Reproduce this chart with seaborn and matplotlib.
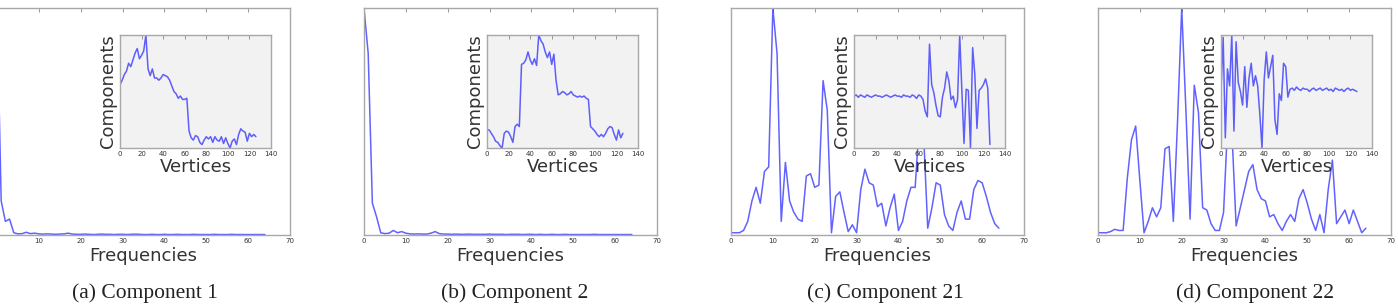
import numpy as np
import pandas as pd
import matplotlib
matplotlib.use("Agg")
import matplotlib.pyplot as plt
import seaborn as sns

# spectrum magnitudes at frequencies 0..64 (normalised)
freqs = list(range(65))
spec_a = [1.0, 0.15, 0.06, 0.07, 0.01, 0.005, 0.006, 0.012, 0.006, 0.008,
          0.005, 0.004, 0.005, 0.004, 0.003, 0.004, 0.005, 0.008, 0.004, 0.003,
          0.003, 0.004, 0.003, 0.002, 0.003, 0.004, 0.003, 0.003, 0.002, 0.003,
          0.003, 0.002, 0.003, 0.004, 0.003, 0.002, 0.002, 0.003, 0.002, 0.002,
          0.003, 0.002, 0.002, 0.003, 0.002, 0.002, 0.002, 0.003, 0.002, 0.002,
          0.002, 0.002, 0.003, 0.002, 0.002, 0.002, 0.003, 0.002, 0.002, 0.002,
          0.002, 0.002, 0.002, 0.002, 0.002]
spec_b = [1.0, 0.8, 0.14, 0.08, 0.01, 0.006, 0.008, 0.02, 0.01, 0.015,
          0.008, 0.005, 0.004, 0.005, 0.004, 0.004, 0.008, 0.015, 0.006, 0.004,
          0.004, 0.003, 0.004, 0.003, 0.003, 0.004, 0.003, 0.003, 0.003, 0.003,
          0.004, 0.003, 0.003, 0.003, 0.002, 0.003, 0.003, 0.003, 0.002, 0.003,
          0.003, 0.002, 0.003, 0.002, 0.002, 0.003, 0.002, 0.002, 0.003, 0.002,
          0.002, 0.002, 0.002, 0.002, 0.002, 0.003, 0.002, 0.002, 0.002, 0.002,
          0.002, 0.002, 0.002, 0.002, 0.002]
spec_c = [0.01, 0.01, 0.01, 0.02, 0.06, 0.15, 0.21, 0.14, 0.28, 0.30,
          1.00, 0.80, 0.06, 0.32, 0.15, 0.10, 0.07, 0.06, 0.26, 0.27,
          0.21, 0.22, 0.68, 0.55, 0.01, 0.17, 0.19, 0.10, 0.015, 0.045,
          0.01, 0.20, 0.29, 0.23, 0.22, 0.125, 0.14, 0.04, 0.12, 0.18,
          0.02, 0.06, 0.15, 0.21, 0.21, 0.50, 0.45, 0.03, 0.12, 0.23,
          0.22, 0.09, 0.04, 0.02, 0.10, 0.15, 0.07, 0.07, 0.20, 0.24,
          0.23, 0.17, 0.10, 0.05, 0.03]
spec_d = [0.01, 0.01, 0.01, 0.015, 0.025, 0.02, 0.02, 0.25, 0.42, 0.48,
          0.24, 0.01, 0.06, 0.12, 0.08, 0.12, 0.38, 0.39, 0.06, 0.50,
          1.00, 0.55, 0.07, 0.66, 0.54, 0.12, 0.11, 0.05, 0.02, 0.02,
          0.10, 0.50, 0.45, 0.04, 0.12, 0.20, 0.28, 0.31, 0.20, 0.16,
          0.15, 0.08, 0.09, 0.05, 0.02, 0.06, 0.09, 0.06, 0.16, 0.20,
          0.14, 0.07, 0.02, 0.09, 0.01, 0.20, 0.33, 0.05, 0.08, 0.11,
          0.05, 0.11, 0.06, 0.01, 0.03]

# component values on the vertices (every second vertex, 0..126)
vertices = list(range(0, 128, 2))
comp_a = [0.56, 0.60, 0.65, 0.68, 0.75, 0.72, 0.78, 0.84, 0.88, 0.79,
          0.82, 0.86, 1.00, 0.70, 0.64, 0.70, 0.62, 0.62, 0.60, 0.62,
          0.65, 0.64, 0.63, 0.60, 0.55, 0.50, 0.48, 0.44, 0.46, 0.43,
          0.43, 0.44, 0.15, 0.09, 0.07, 0.11, 0.10, 0.05, 0.03, 0.07,
          0.10, 0.08, 0.10, 0.05, 0.10, 0.07, 0.06, 0.10, 0.04, 0.09,
          0.04, 0.00, 0.06, 0.08, 0.03, 0.12, 0.17, 0.15, 0.14, 0.06,
          0.13, 0.10, 0.12, 0.10]
comp_b = [0.16, 0.16, 0.13, 0.10, 0.06, 0.05, 0.02, 0.00, 0.13, 0.15,
          0.14, 0.10, 0.05, 0.19, 0.21, 0.19, 0.74, 0.75, 0.78, 0.85,
          0.78, 0.74, 0.79, 0.73, 1.00, 0.95, 0.92, 0.85, 0.80, 0.85,
          0.74, 0.83, 0.60, 0.47, 0.48, 0.50, 0.49, 0.47, 0.48, 0.50,
          0.47, 0.46, 0.45, 0.46, 0.45, 0.46, 0.44, 0.43, 0.19, 0.17,
          0.15, 0.12, 0.10, 0.12, 0.10, 0.13, 0.17, 0.19, 0.18, 0.12,
          0.07, 0.16, 0.09, 0.13]
comp_c = [0.45, 0.46, 0.44, 0.46, 0.45, 0.44, 0.46, 0.45, 0.44, 0.45,
          0.46, 0.45, 0.45, 0.44, 0.45, 0.46, 0.45, 0.44, 0.45, 0.46,
          0.45, 0.45, 0.44, 0.46, 0.45, 0.45, 0.44, 0.46, 0.45, 0.43,
          0.46, 0.45, 0.42, 0.32, 0.27, 0.90, 0.55, 0.48, 0.37, 0.28,
          0.27, 0.44, 0.52, 0.66, 0.58, 0.42, 0.45, 0.35, 0.42, 0.98,
          0.50, 0.04, 0.51, 0.50, 0.00, 0.87, 0.64, 0.17, 0.50, 0.52,
          0.55, 0.60, 0.52, 0.03]
comp_d = [0.50, 0.98, 0.09, 0.70, 0.55, 1.00, 0.15, 0.94, 0.58, 0.50,
          0.38, 0.72, 0.36, 0.62, 0.75, 0.55, 0.64, 0.55, 0.30, 0.00,
          0.60, 0.85, 0.62, 0.72, 0.82, 0.25, 0.12, 0.48, 0.42, 0.75,
          0.72, 0.45, 0.52, 0.53, 0.51, 0.54, 0.52, 0.51, 0.53, 0.52,
          0.52, 0.50, 0.52, 0.53, 0.51, 0.52, 0.53, 0.51, 0.52, 0.53,
          0.51, 0.52, 0.50, 0.53, 0.52, 0.51, 0.52, 0.50, 0.52, 0.53,
          0.51, 0.52, 0.51, 0.50]

captions = ["(a) Component 1", "(b) Component 2", "(c) Component 21", "(d) Component 22"]
spectra = [spec_a, spec_b, spec_c, spec_d]
components = [comp_a, comp_b, comp_c, comp_d]

sns.set_style("white")
plt.rcParams["font.family"] = ["DejaVu Sans"]

W, H = 1398, 308
fig = plt.figure(figsize=(W / 100, H / 100), dpi=100)

line_kw = dict(color="#2020ff", alpha=0.7, linewidth=1.1)
spine_col = "#a8a8a8"


def style_axes(ax, facecolor):
    ax.set_facecolor(facecolor)
    for s in ax.spines.values():
        s.set_color(spine_col)
        s.set_linewidth(1.0)
        s.set_visible(True)
    ax.tick_params(direction="in", top=True, right=False, length=3, width=0.6,
                   color="#888888", labelsize=5, pad=2, labelcolor="#333333")


for i in range(4):
    left = -3 + 367 * i
    ax = fig.add_axes([left / W, 1 - 235 / H, 293 / W, 227 / H])
    df = pd.DataFrame({"f": freqs, "v": spectra[i]})
    sns.lineplot(data=df, x="f", y="v", ax=ax, **line_kw)
    ax.set_xlim(0, 70)
    ax.set_ylim(0, max(spectra[i]))
    ax.set_xticks(range(0, 71, 10))
    ax.set_yticks([])
    style_axes(ax, "white")
    ax.set_xlabel("Frequencies", fontsize=13, color="#333333", labelpad=2)
    ax.set_ylabel("")

    ins = fig.add_axes([(left + 123) / W, 1 - 148 / H, 151 / W, 113 / H])
    dfi = pd.DataFrame({"x": vertices, "y": components[i]})
    sns.lineplot(data=dfi, x="x", y="y", ax=ins, **line_kw)
    ins.set_xlim(0, 140)
    ins.set_ylim(min(components[i]), max(components[i]))
    ins.set_xticks(range(0, 141, 20))
    ins.set_yticks([])
    style_axes(ins, "#f2f2f2")
    ins.set_xlabel("Vertices", fontsize=13, color="#333333", labelpad=1)
    ins.set_ylabel("Components", fontsize=13, color="#333333", labelpad=2)

    fig.text((left + 148 + 3 * i) / W, 1 - 293 / H, captions[i], ha="center", va="center",
             fontsize=15.5, family=["Liberation Serif"], color="#222222")

fig.savefig("out.png", dpi=100)
